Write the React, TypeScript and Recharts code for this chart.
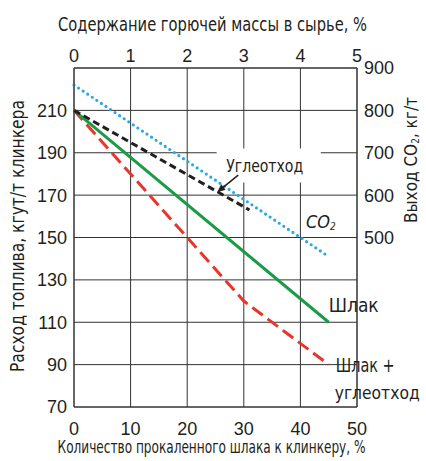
import React from 'react';
import { LineChart, Line, XAxis, YAxis, CartesianGrid, ReferenceDot, ReferenceArea } from 'recharts';

// шлак, % к клинкеру -> расход топлива
const slagPct = [0, 45];
const slagFuel = [210, 110];
// шлак + углеотход
const mixPct = [0, 20, 30, 45];
const mixFuel = [210, 150, 120, 90];
// углеотход, по верхней оси (горючая масса, %)
const coalPct = [0, 3.1];
const coalFuel = [210, 163];
// выход CO2, правая ось
const co2Pct = [0, 40, 45];
const co2Out = [860, 500, 455];

const bottomTicks = [0, 10, 20, 30, 40, 50];
const topTicks = [0, 1, 2, 3, 4, 5];
const fuelTicks = [70, 90, 110, 130, 150, 170, 190, 210];
const co2Ticks = [500, 600, 700, 800, 900];

const FONT = '"DejaVu Sans Condensed", "Liberation Sans", Arial, sans-serif';
const TXT = '#231f20';
const GRID = '#333';

const slag = slagPct.map((x, i) => ({ x, y: slagFuel[i] }));
const mix = mixPct.map((x, i) => ({ x, y: mixFuel[i] }));
const coal = coalPct.map((x, i) => ({ x, y: coalFuel[i] }));
const co2 = co2Pct.map((x, i) => ({ x, y: co2Out[i] }));

const tickStyle = { fill: TXT, fontSize: 18, fontFamily: '"Liberation Sans", Arial, sans-serif' };
const squeeze = { lengthAdjust: 'spacingAndGlyphs' as const };

const App: React.FC = () => {
  return (
    <div style={{ position: 'absolute', left: 0, top: 0, fontFamily: FONT }}>
      <LineChart width={426} height={461} margin={{ top: 0, right: 0, bottom: 0, left: 0 }} style={{ fontFamily: FONT }}>
        <CartesianGrid stroke={GRID} strokeWidth={1} xAxisId="bottom" yAxisId="left" />
        <XAxis
          xAxisId="bottom"
          dataKey="x"
          type="number"
          domain={[0, 50]}
          ticks={bottomTicks}
          height={54}
          tickLine={false}
          tickMargin={9}
          axisLine={{ stroke: GRID }}
          tick={tickStyle}
          label={() => (
            <text transform="translate(211.5 453) scale(0.77 1)" x={0} y={0} textAnchor="middle" fill={TXT} fontSize={17.5} fontFamily={FONT}>
              Количество прокаленного шлака к клинкеру, %
            </text>
          )}
        />
        <XAxis
          xAxisId="top"
          dataKey="x"
          type="number"
          orientation="top"
          domain={[0, 5]}
          ticks={topTicks}
          height={68}
          tickLine={false}
          tickMargin={0}
          axisLine={{ stroke: GRID }}
          tick={tickStyle}
          label={() => (
            <text x={212.5} y={31} textAnchor="middle" fill={TXT} fontSize={19} fontFamily={FONT} textLength={309} {...squeeze}>
              Содержание горючей массы в сырье, %
            </text>
          )}
        />
        <YAxis
          yAxisId="left"
          type="number"
          domain={[70, 230]}
          ticks={fuelTicks}
          width={74}
          tickLine={false}
          tickMargin={1}
          axisLine={{ stroke: GRID }}
          tick={tickStyle}
          label={() => (
            <text
              x={17}
              y={236}
              transform="rotate(-90 17 236)"
              textAnchor="middle"
              dominantBaseline="central"
              fill={TXT}
              fontSize={19}
              fontFamily={FONT}
              textLength={272}
              {...squeeze}
            >
              Расход топлива, кгут/т клинкера
            </text>
          )}
        />
        <YAxis
          yAxisId="right"
          orientation="right"
          type="number"
          domain={[100, 900]}
          ticks={co2Ticks}
          width={69}
          tickLine={false}
          tickMargin={1}
          axisLine={{ stroke: GRID }}
          tick={tickStyle}
          label={() => (
            <text
              x={411}
              y={160}
              transform="rotate(-90 411 160)"
              textAnchor="middle"
              dominantBaseline="central"
              fill={TXT}
              fontSize={17}
              fontFamily={FONT}
            >
              <tspan>Выход CO</tspan>
              <tspan fontSize={10} dy={4}>2</tspan>
              <tspan dy={-4}>, кг/т</tspan>
            </text>
          )}
        />

        <ReferenceArea xAxisId="bottom" yAxisId="left" x1={25.2} x2={43.6} y1={176} y2={192} fill="#fff" fillOpacity={1} stroke="none" />

        <Line data={co2} xAxisId="bottom" yAxisId="right" dataKey="y" type="linear" stroke="#29a9df" strokeWidth={3.2} strokeDasharray="0 5.5" strokeLinecap="round" dot={false} isAnimationActive={false} />
        <Line data={mix} xAxisId="bottom" yAxisId="left" dataKey="y" type="linear" stroke="#e8362d" strokeWidth={3} strokeDasharray="13 6" dot={false} isAnimationActive={false} />
        <Line data={slag} xAxisId="bottom" yAxisId="left" dataKey="y" type="linear" stroke="#1a9c47" strokeWidth={3} dot={false} isAnimationActive={false} />
        <Line data={coal} xAxisId="top" yAxisId="left" dataKey="y" type="linear" stroke="#231f20" strokeWidth={3} strokeDasharray="7 4" dot={false} isAnimationActive={false} />

        <ReferenceDot
          xAxisId="bottom"
          yAxisId="left"
          x={25.3}
          y={171.4}
          r={1}
          shape={({ cx, cy }: any) => (
            <g>
              <line x1={cx + 21} y1={cy - 17} x2={cx + 5} y2={cy - 4} stroke={TXT} strokeWidth={1.5} />
              <polygon points={`${cx},${cy} ${cx + 8.4},${cy - 2.3} ${cx + 4},${cy - 7.8}`} fill={TXT} />
              <text x={cx + 9} y={cy - 27} dominantBaseline="central" fill={TXT} fontSize={18} fontFamily={FONT} textLength={77} {...squeeze}>
                Углеотход
              </text>
            </g>
          )}
        />
        <ReferenceDot
          xAxisId="bottom"
          yAxisId="left"
          x={41}
          y={158}
          r={1}
          shape={({ cx, cy }: any) => (
            <text x={cx} y={cy} dominantBaseline="central" fill={TXT} fontSize={18} fontStyle="italic" fontFamily={FONT}>
              <tspan>CO</tspan>
              <tspan fontSize={10} dy={5}>2</tspan>
            </text>
          )}
        />
        <ReferenceDot
          xAxisId="bottom"
          yAxisId="left"
          x={45}
          y={110}
          r={1}
          shape={({ cx, cy }: any) => (
            <text x={cx} y={cy - 17} dominantBaseline="central" fill={TXT} fontSize={19} fontFamily={FONT} textLength={50} {...squeeze}>
              Шлак
            </text>
          )}
        />
        <ReferenceDot
          xAxisId="bottom"
          yAxisId="left"
          x={45}
          y={90}
          r={1}
          shape={({ cx, cy }: any) => (
            <g>
              <text x={cx + 7} y={cy} dominantBaseline="central" fill={TXT} fontSize={19} fontFamily={FONT} textLength={59} {...squeeze}>
                Шлак +
              </text>
              <text x={cx + 6} y={cy + 28} dominantBaseline="central" fill={TXT} fontSize={17.5} fontFamily={FONT} textLength={85} {...squeeze}>
                углеотход
              </text>
            </g>
          )}
        />
      </LineChart>
    </div>
  );
};

export default App;
